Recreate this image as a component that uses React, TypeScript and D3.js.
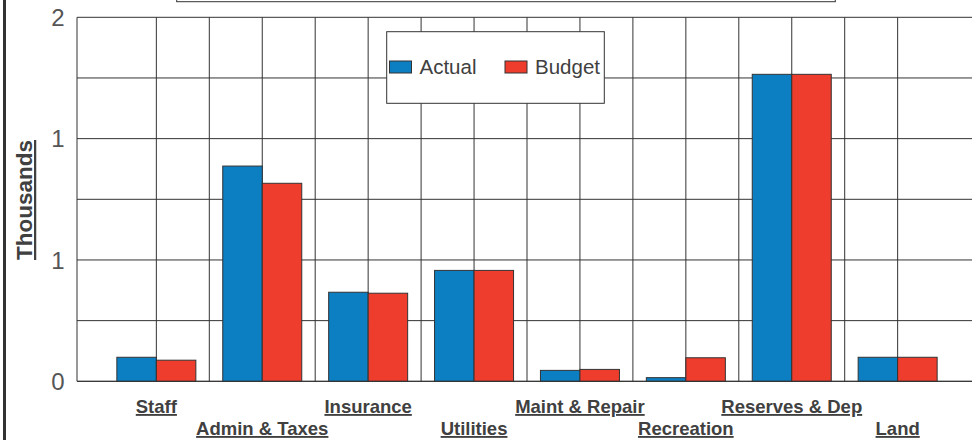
import React from "react";
import * as d3 from "d3";

const categories = [
  "Staff",
  "Admin & Taxes",
  "Insurance",
  "Utilities",
  "Maint & Repair",
  "Recreation",
  "Reserves & Dep",
  "Land",
];
const actualValues = [0.099, 0.887, 0.367, 0.457, 0.045, 0.015, 1.265, 0.099];
const budgetValues = [0.087, 0.816, 0.363, 0.457, 0.049, 0.097, 1.265, 0.099];
const yTickValues = [0, 0.5, 1, 1.5];
const yTickLabels = ["0", "1", "1", "2"];
const yGridValues = [0, 0.25, 0.5, 0.75, 1, 1.25, 1.5];
const seriesNames = ["Actual", "Budget"];

const BLUE = "#0C7EC2";
const RED = "#EE3D2C";
const LINE = "#333333";
const TEXT = "#404040";
const FONT = "Arial, 'Liberation Sans', sans-serif";

export default function App() {
  const W = 972;
  const H = 440;
  const plotLeft = 77;
  const plotTop = 17.3;
  const plotBottom = 381.3;
  const bandStart = 103.4;
  const bandW = 105.9;

  const x = d3
    .scaleBand<string>()
    .domain(categories)
    .range([bandStart, bandStart + bandW * categories.length])
    .paddingInner(0)
    .paddingOuter(0);
  const y = d3.scaleLinear().domain([0, 1.5]).range([plotBottom, plotTop]);
  const bw = x.bandwidth();
  const barW = bw * 0.373;

  const vLines: number[] = [];
  categories.forEach((c, i) => {
    vLines.push((x(c) as number) + bw / 2);
    if (i < categories.length - 1) vLines.push((x(c) as number) + bw);
  });

  return (
    <svg
      width={W}
      height={H}
      style={{ position: "absolute", left: 0, top: 0, background: "#fff" }}
      fontFamily={FONT}
    >
      <rect x={0} y={0} width={W} height={H} fill="#fff" />
      {/* left frame */}
      <line x1={4.5} x2={4.5} y1={0} y2={H} stroke={LINE} strokeWidth={3} />
      {/* title box cut off at top */}
      <rect x={176.7} y={-50} width={658.6} height={51.7} fill="#fff" stroke={LINE} strokeWidth={1} />

      {/* horizontal gridlines */}
      {yGridValues.map((v, i) => (
        <line key={"h" + i} x1={plotLeft} x2={W} y1={y(v)} y2={y(v)} stroke={LINE} strokeWidth={1} />
      ))}
      {/* vertical gridlines */}
      <line x1={plotLeft} x2={plotLeft} y1={plotTop} y2={plotBottom} stroke={LINE} strokeWidth={1} />
      {vLines.map((vx, i) => (
        <line key={"v" + i} x1={vx} x2={vx} y1={plotTop} y2={plotBottom} stroke={LINE} strokeWidth={1} />
      ))}

      {/* bars */}
      {categories.map((c, i) => {
        const cx = (x(c) as number) + bw / 2;
        return (
          <g key={"b" + i}>
            <rect
              x={cx - barW}
              y={y(actualValues[i])}
              width={barW}
              height={plotBottom - y(actualValues[i])}
              fill={BLUE}
              stroke={LINE}
              strokeWidth={1}
            />
            <rect
              x={cx}
              y={y(budgetValues[i])}
              width={barW}
              height={plotBottom - y(budgetValues[i])}
              fill={RED}
              stroke={LINE}
              strokeWidth={1}
            />
          </g>
        );
      })}
      <line x1={plotLeft} x2={W} y1={plotBottom} y2={plotBottom} stroke={LINE} strokeWidth={1} />

      {/* y tick labels */}
      {yTickValues.map((v, i) => (
        <text
          key={"yt" + i}
          x={64.5}
          y={y(v)}
          dy="0.36em"
          textAnchor="end"
          fontSize={24}
          fill="#555555"
        >
          {yTickLabels[i]}
        </text>
      ))}

      {/* y axis title */}
      <text
        transform="translate(32,200) rotate(-90)"
        textAnchor="middle"
        fontSize={22.5}
        fontWeight="bold"
        fill={TEXT}
        textDecoration="underline"
      >
        Thousands
      </text>

      {/* category labels */}
      {categories.map((c, i) => (
        <text
          key={"c" + i}
          x={(x(c) as number) + bw / 2}
          y={i % 2 === 0 ? 413 : 435}
          textAnchor="middle"
          fontSize={18.5}
          fontWeight="bold"
          fill={TEXT}
          textDecoration="underline"
        >
          {c}
        </text>
      ))}

      {/* legend */}
      <rect x={386.7} y={31.7} width={217.6} height={71.6} fill="#fff" stroke={LINE} strokeWidth={1} />
      {seriesNames.map((s, i) => {
        const sx = i === 0 ? 389.5 : 505;
        return (
          <g key={"l" + i}>
            <rect x={sx} y={61} width={22} height={12} fill={i === 0 ? BLUE : RED} stroke={LINE} strokeWidth={1} />
            <text x={sx + 30} y={67} dy="0.36em" fontSize={20.5} fill={TEXT}>
              {s}
            </text>
          </g>
        );
      })}
    </svg>
  );
}
